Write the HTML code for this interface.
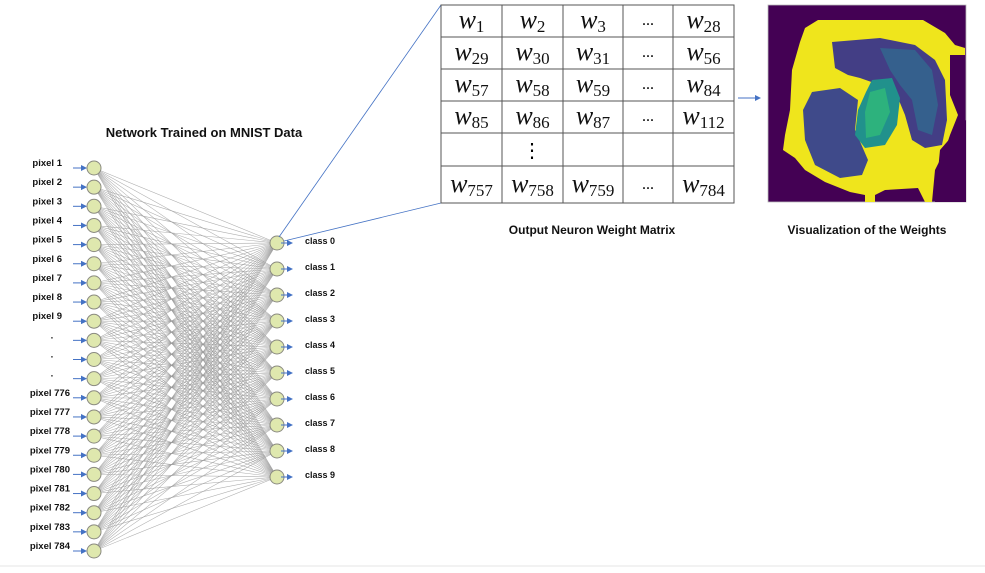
<!DOCTYPE html>
<html><head><meta charset="utf-8"><style>
html,body{margin:0;padding:0;background:#fff;width:985px;height:573px;overflow:hidden}
svg{display:block}
.t{font-family:"Liberation Sans",sans-serif;font-weight:bold;fill:#111}
.m{font-family:"Liberation Serif",serif;font-style:italic;fill:#111}
</style></head><body>
<svg id="s" width="985" height="573" viewBox="0 0 985 573" xmlns="http://www.w3.org/2000/svg">
<defs><marker id="a" markerWidth="6" markerHeight="6" refX="5" refY="3" orient="auto"><path d="M0,0 L6,3 L0,6 z" fill="#4472c4"/></marker></defs>
<g id="lines" stroke="#999" stroke-width="0.55" stroke-opacity="0.8"></g>
<g id="nodes"></g>
<text class="t" x="204" y="137" font-size="13" text-anchor="middle">Network Trained on MNIST Data</text>
<line x1="279" y1="237" x2="441" y2="5" stroke="#4472c4" stroke-width="0.8"/>
<line x1="284" y1="241" x2="441" y2="203" stroke="#4472c4" stroke-width="0.8"/>
<g stroke="#555" stroke-width="1" fill="none">
<rect x="441" y="5" width="293" height="198"/>
<line x1="502" y1="5" x2="502" y2="203"/><line x1="563" y1="5" x2="563" y2="203"/>
<line x1="623" y1="5" x2="623" y2="203"/><line x1="673" y1="5" x2="673" y2="203"/>
<line x1="441" y1="37" x2="734" y2="37"/><line x1="441" y1="69" x2="734" y2="69"/>
<line x1="441" y1="101" x2="734" y2="101"/><line x1="441" y1="133" x2="734" y2="133"/>
<line x1="441" y1="166" x2="734" y2="166"/>
</g>
<g id="mx"></g>
<line x1="738" y1="98" x2="760" y2="98" stroke="#4472c4" stroke-width="1" marker-end="url(#a)"/>
<text class="t" x="592" y="234" font-size="12" text-anchor="middle">Output Neuron Weight Matrix</text>
<text class="t" x="867" y="234" font-size="12" text-anchor="middle">Visualization of the Weights</text>
<g>
<rect x="768" y="5" width="198" height="197" fill="#440154" stroke="#bbb" stroke-width="0.8"/>
<path d="M818,20 L923,20 L945,33 L955,45 L965,48 L965,55 L950,55 L950,95 L958,115 L950,135 L945,150 L935,170 L932,202 L925,202 L918,188 L885,190 L875,195 L875,202 L865,202 L865,195 L850,192 L825,182 L805,170 L795,158 L783,150 L785,135 L790,110 L792,70 L800,42 L805,28 Z" fill="#efe51c"/>
<path d="M832,42 L880,38 L915,45 L935,60 L945,80 L947,120 L942,145 L925,148 L912,140 L905,115 L898,98 L880,85 L860,78 L848,75 L835,68 Z" fill="#433e85"/>
<path d="M880,48 L915,50 L932,70 L938,105 L932,135 L918,130 L912,100 L900,85 L890,70 Z" fill="#35608d"/>
<path d="M812,92 L840,88 L858,100 L855,130 L868,160 L862,175 L840,178 L815,165 L805,140 L803,110 Z" fill="#3f4a8a"/>
<path d="M872,80 L892,78 L900,98 L897,125 L885,145 L865,148 L855,135 L858,110 L866,92 Z" fill="#21918c"/>
<path d="M870,92 L885,88 L890,112 L880,135 L866,138 L865,112 Z" fill="#2db27d"/>
<path d="M940,150 L966,120 L966,202 L935,202 Z" fill="#440154"/>
</g>
<line x1="0" y1="566" x2="985" y2="566" stroke="#e6e6e6" stroke-width="1"/>
</svg>
<script>
var NS="http://www.w3.org/2000/svg";
function el(p,n,a,txt){var e=document.createElementNS(NS,n);for(var k in a)e.setAttribute(k,a[k]);if(txt!==undefined)e.textContent=txt;document.getElementById(p).appendChild(e);return e;}
var labels=["pixel 1","pixel 2","pixel 3","pixel 4","pixel 5","pixel 6","pixel 7","pixel 8","pixel 9",".",".",".","pixel 776","pixel 777","pixel 778","pixel 779","pixel 780","pixel 781","pixel 782","pixel 783","pixel 784"];
var iy=[],oy=[];
for(var i=0;i<21;i++)iy.push(168+i*19.15);
for(var j=0;j<10;j++)oy.push(243+j*26);
for(i=0;i<21;i++)for(j=0;j<10;j++)el("lines","line",{x1:94,y1:iy[i],x2:277,y2:oy[j]});
for(i=0;i<21;i++){
 var lx=labels[i]=="."?52:(i>=12?70:62);
 el("nodes","text",{x:lx,y:iy[i]-2,"font-size":"9.5","text-anchor":labels[i]=="."?"middle":"end","class":"t"},labels[i]);
 el("nodes","line",{x1:73,y1:iy[i],x2:86,y2:iy[i],stroke:"#4472c4","stroke-width":1,"marker-end":"url(#a)"});
 el("nodes","circle",{cx:94,cy:iy[i],r:7,fill:"#dfe8ae",stroke:"#8a8a80","stroke-width":1});
}
for(j=0;j<10;j++){
 el("nodes","circle",{cx:277,cy:oy[j],r:7,fill:"#dfe8ae",stroke:"#8a8a80","stroke-width":1});
 el("nodes","line",{x1:281,y1:oy[j],x2:292,y2:oy[j],stroke:"#4472c4","stroke-width":1,"marker-end":"url(#a)"});
 el("nodes","text",{x:305,y:oy[j]+1,"font-size":"9","class":"t"},"class "+j);
}
var cx=[471.5,532.5,593,648,703.5];
var rows=[[["1"],["2"],["3"],null,["28"]],[["29"],["30"],["31"],null,["56"]],[["57"],["58"],["59"],null,["84"]],[["85"],["86"],["87"],null,["112"]],null,[["757"],["758"],["759"],null,["784"]]];
var ry=[28,60,92,124,0,192];
for(var r=0;r<6;r++){
 if(!rows[r]){el("mx","text",{x:532,y:157,"font-size":"20","text-anchor":"middle","font-family":"Liberation Serif"},"⋮");continue;}
 for(var c=0;c<5;c++){
  if(!rows[r][c]){el("mx","text",{x:648,y:ry[r]-3,"font-size":"16","text-anchor":"middle","font-family":"Liberation Serif"},"...");continue;}
  var t=el("mx","text",{x:cx[c],y:ry[r],"font-size":"26","text-anchor":"middle","class":"m"});
  var a=document.createElementNS(NS,"tspan");a.textContent="w";t.appendChild(a);
  var b=document.createElementNS(NS,"tspan");b.setAttribute("font-size","17");b.setAttribute("font-style","normal");b.setAttribute("dy","4");b.textContent=rows[r][c][0];t.appendChild(b);
 }
}
</script>
</body></html>
